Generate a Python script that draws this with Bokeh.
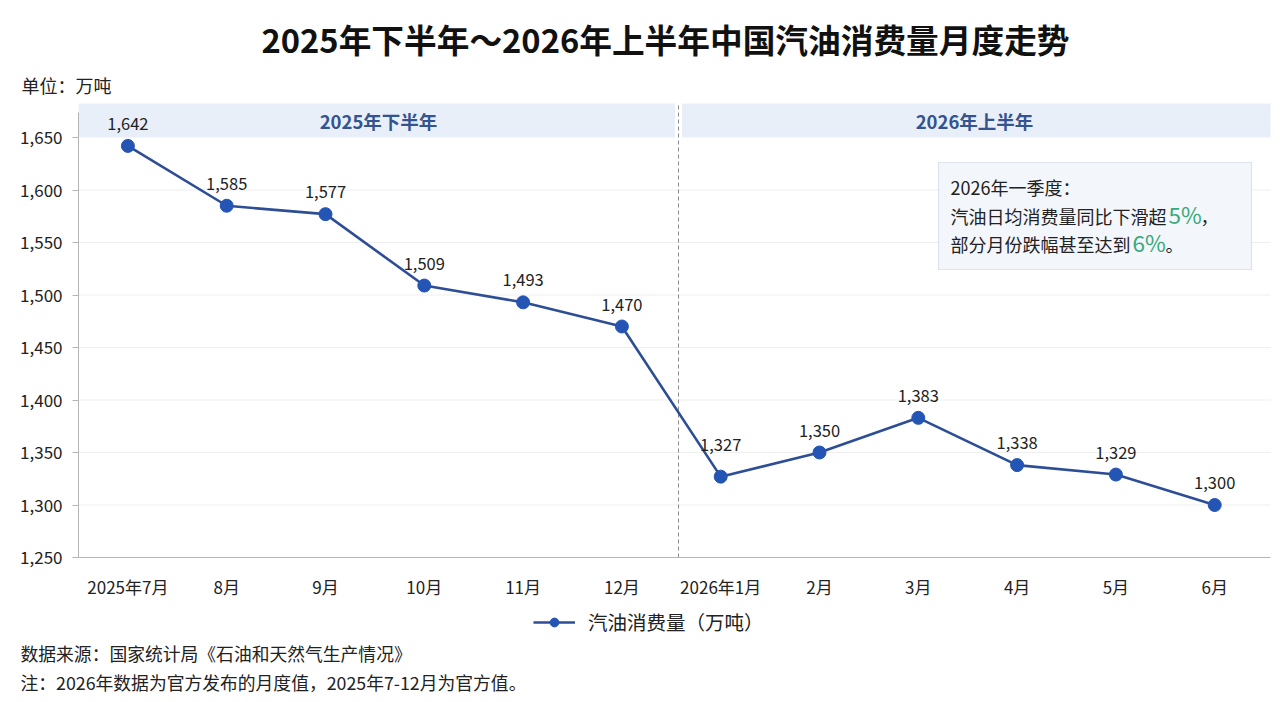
from bokeh.plotting import figure
from bokeh.models import (Label, BoxAnnotation, Legend, LegendItem,
                          NumeralTickFormatter, FixedTicker, ColumnDataSource)
from bokeh.core.properties import value
from bokeh.embed import file_html
from bokeh.resources import INLINE

# ---- data ----
months = ["2025年7月", "8月", "9月", "10月", "11月", "12月",
          "2026年1月", "2月", "3月", "4月", "5月", "6月"]
consumption = [1642, 1585, 1577, 1509, 1493, 1470,
               1327, 1350, 1383, 1338, 1329, 1300]
y_ticks = [1250, 1300, 1350, 1400, 1450, 1500, 1550, 1600, 1650]
periods = ["2025年下半年", "2026年上半年"]
series_name = "汽油消费量（万吨）"

FONT = "Noto Sans CJK SC"
W, H = 1280, 702
x = list(range(len(months)))
value_labels = [f"{v:,}" for v in consumption]
# label lift (styling): the January label sits higher to clear the line
label_dy = [-26 if m.startswith("2026年1") else -16 for m in months]

# pixel geometry of the plotting area (frame covers the whole canvas)
PX_LEFT, PX_RIGHT, PX_TOP, PX_BOTTOM = 78, 1270, 103, 557
X_STEP = 98.8          # px per category
Y_SCALE = 1.05         # px per unit


def xpx(px):
    return -0.5 + (px - PX_LEFT) / X_STEP


def ypx(py):
    return y_ticks[0] + (PX_BOTTOM - py) / Y_SCALE


X0, X1 = xpx(PX_LEFT), xpx(PX_RIGHT)
Y0, Y1 = y_ticks[0], ypx(PX_TOP)
SPLIT = xpx(678)

p = figure(width=W, height=H, x_range=(xpx(0), xpx(W)), y_range=(ypx(H), ypx(0)),
           output_backend="svg", toolbar_location=None,
           min_border=0)
p.outline_line_color = None
p.background_fill_color = "white"
p.border_fill_color = "white"

# grid lines (only inside the plotting area)
p.segment(x0=[X0] * (len(y_ticks) - 2), x1=[X1] * (len(y_ticks) - 2),
          y0=y_ticks[1:-1], y1=y_ticks[1:-1], line_color="#efefef", line_width=1)
p.xgrid.grid_line_color = None
p.ygrid.grid_line_color = None

# period bands
p.quad(left=[X0, SPLIT + 0.035], right=[SPLIT - 0.035, X1],
       bottom=[y_ticks[-1]] * 2, top=[Y1] * 2,
       fill_color="#e9eff9", line_color=None)
band_centers = [(X0 + SPLIT) / 2, (SPLIT + X1) / 2]
band_y = (y_ticks[-1] + Y1) / 2
p.text(x=band_centers, y=[band_y] * 2, text=periods,
       text_font=value(FONT), text_font_size="18.5px", text_font_style="bold",
       text_color="#33548f", text_align="center", text_baseline="middle")

# divider
p.segment(x0=[SPLIT], x1=[SPLIT], y0=[Y0], y1=[Y1], line_color="#8a8a8a",
          line_dash="4 3", line_width=1)

# axes drawn at fixed positions inside the full-canvas frame
p.xaxis.fixed_location = Y0
p.xaxis.bounds = (X0, X1)
p.xaxis.ticker = FixedTicker(ticks=x)
p.xaxis.major_label_overrides = {i: m for i, m in enumerate(months)}
p.xaxis.major_tick_line_color = None
p.xaxis.minor_tick_line_color = None
p.xaxis.axis_line_color = "#b5b5b5"
p.xaxis.major_label_standoff = 10
p.yaxis.fixed_location = X0
p.yaxis.bounds = (Y0, ypx(112))
p.yaxis.ticker = FixedTicker(ticks=y_ticks)
p.yaxis.formatter = NumeralTickFormatter(format="0,0")
p.yaxis.axis_line_color = "#b5b5b5"
p.yaxis.major_tick_line_color = "#b5b5b5"
p.yaxis.major_tick_out = 6
p.yaxis.major_tick_in = 0
p.yaxis.minor_tick_line_color = None
p.yaxis.major_label_standoff = 10
for ax in (p.xaxis, p.yaxis):
    ax.major_label_text_font = FONT
    ax.major_label_text_font_size = "17px"
    ax.major_label_text_color = "#222222"

# series
src = ColumnDataSource(dict(x=x, y=consumption, label=value_labels, dy=label_dy))
r_line = p.line("x", "y", source=src, line_color="#2d4e96", line_width=2.6)
r_pts = p.scatter("x", "y", source=src, size=13, fill_color="#2454b4",
                  line_color="#2454b4")
p.text("x", "y", text="label", y_offset="dy", source=src, text_font=value(FONT),
       text_font_size="16.5px", text_color="#222222", text_align="center",
       text_baseline="bottom")

legend = Legend(items=[LegendItem(label=series_name, renderers=[r_line, r_pts])],
                location=(533, 66), orientation="horizontal",
                border_line_color=None, background_fill_alpha=0,
                label_text_font=FONT, label_text_font_size="19.5px",
                label_text_color="#222222", glyph_width=42, glyph_height=22,
                padding=0, margin=0, label_standoff=13)
p.add_layout(legend)

# annotation box
p.add_layout(BoxAnnotation(left=xpx(938), right=xpx(1251), bottom=ypx(269), top=ypx(162),
                           fill_color="#f3f6fb", fill_alpha=1,
                           line_color="#9fb1d2", line_width=1.2))


def lab(xv, yv, txt, size="17px", color="#222222", xo=0, style="normal",
        align="left", baseline="middle"):
    p.add_layout(Label(x=xv, y=yv, text=txt, x_offset=xo,
                       text_font=FONT, text_font_size=size,
                       text_color=color, text_font_style=style,
                       text_align=align, text_baseline=baseline))


bx = xpx(950)
lab(bx, ypx(186), "2026年一季度：", size="18px")
lab(bx, ypx(215), "汽油日均消费量同比下滑超", size="18px")
lab(bx, ypx(213), "5%", size="22.5px", color="#3aa878", xo=218)
lab(bx, ypx(215), "，", size="18px", xo=250)
lab(bx, ypx(243), "部分月份跌幅甚至达到", size="18px")
lab(bx, ypx(241), "6%", size="22.5px", color="#3aa878", xo=182)
lab(bx, ypx(243), "。", size="18px", xo=215)

# title and notes
lab(xpx(665), ypx(38), "2025年下半年～2026年上半年中国汽油消费量月度走势",
    size="32.7px", style="bold", align="center", color="#111111")
lab(xpx(21), ypx(84), "单位：万吨", size="18px")
lab(xpx(20), ypx(652), "数据来源：国家统计局《石油和天然气生产情况》", size="17.8px")
lab(xpx(20), ypx(681), "注：2026年数据为官方发布的月度值，2025年7-12月为官方值。", size="17.8px")

open("out.html", "w").write(file_html(p, INLINE))
